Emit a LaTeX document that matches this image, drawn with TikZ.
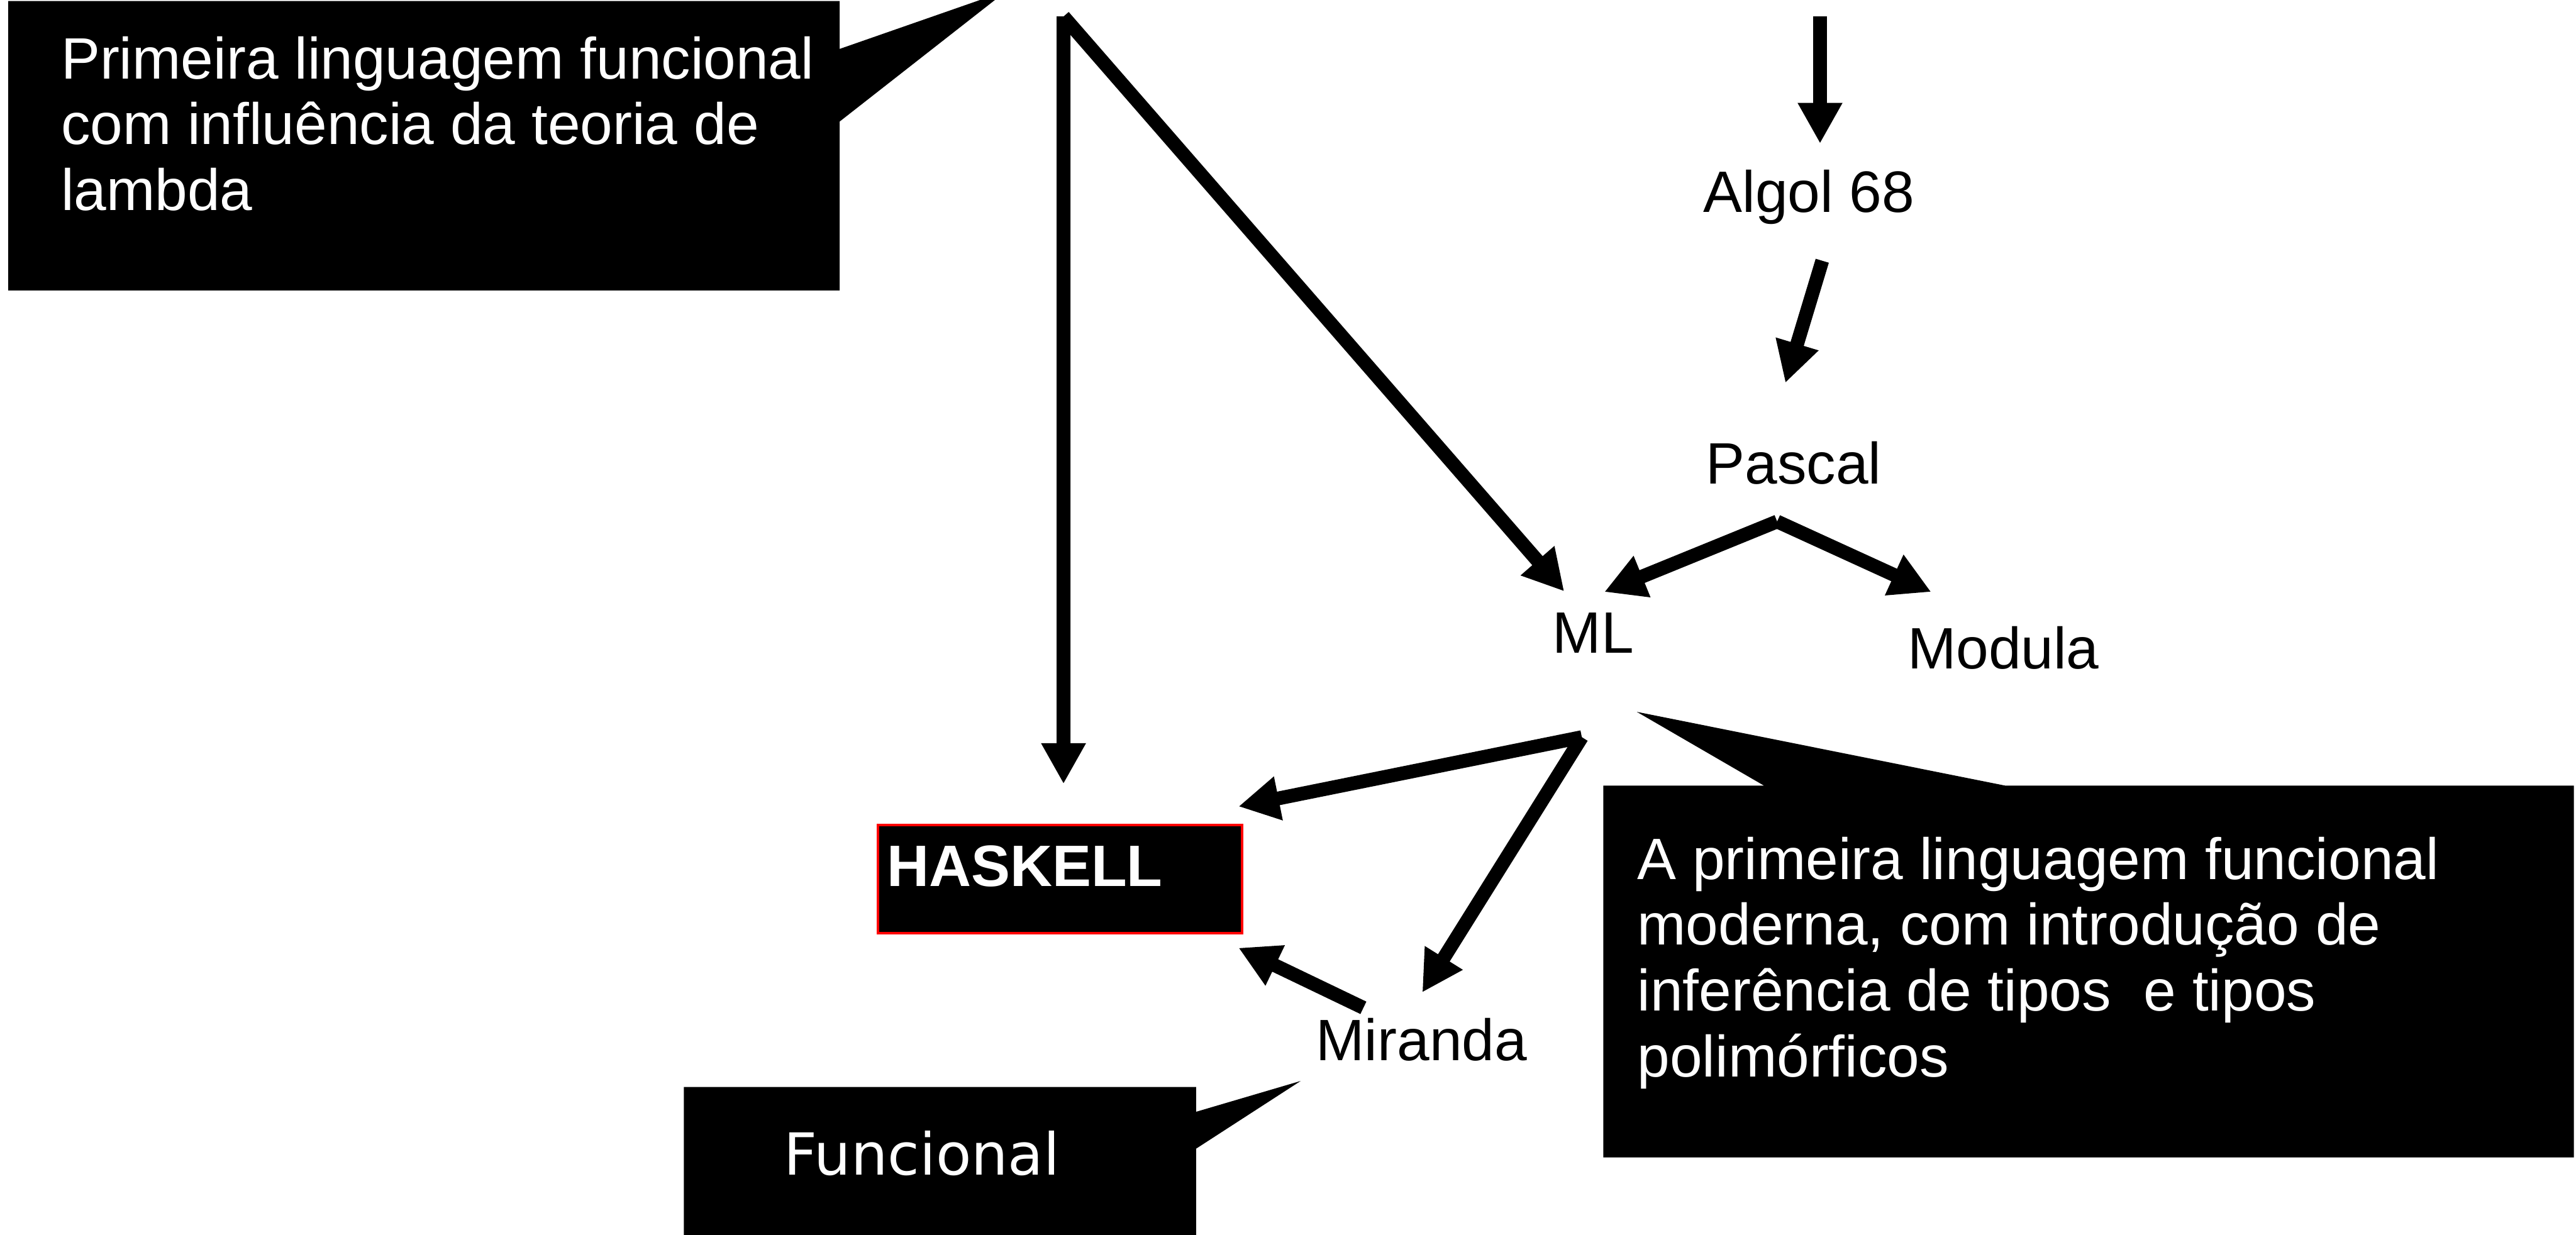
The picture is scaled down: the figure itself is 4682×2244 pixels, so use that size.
\documentclass[tikz,border=0pt]{standalone}
\usepackage{fontspec}
\setmainfont{Liberation Sans}
\newfontfamily\dejavu{DejaVu Sans}
\usetikzlibrary{arrows.meta,calc}

\begin{document}
\begin{tikzpicture}[x=0.1mm,y=-0.1mm,
  lbl/.style={font=\fontsize{30.2}{34}\selectfont, inner sep=0pt, outer sep=0pt, anchor=base west},
  note/.style={lbl, text=white, align=left},
  link/.style={line width=2.5mm, -{Triangle[length=7.4mm,width=7.6mm]}},
  callout/.style={fill=black}]

  % canvas
  \useasboundingbox (0,0) rectangle (4682,2244);
  \clip (0,0) rectangle (4682,2244);
  \fill[white] (0,0) rectangle (4682,2244);

  % callout boxes
  \fill[callout] (15,2) -- (1526,2) -- (1526,89) -- (1830,-17) -- (1526,221)
                 -- (1526,528) -- (15,528) -- cycle;
  \fill[callout] (2914,1428) -- (3206,1428) -- (2975,1294) -- (3644,1428)
                 -- (4678,1428) -- (4678,2104) -- (2914,2104) -- cycle;
  \fill[callout] (1243,1976) -- (2174,1976) -- (2174,2021) -- (2364,1965)
                 -- (2174,2088) -- (2174,2260) -- (1243,2260) -- cycle;

  % callout texts (base anchor = baseline of the last line)
  \node[note] (lispnote) at (111,382)
    {Primeira linguagem funcional\\com influência da teoria de\\lambda};
  \node[note] (mlnote) at (2976,1957)
    {A primeira linguagem funcional\\moderna, com introdução de\\inferência de tipos\ \ e tipos\\polimórficos};
  \node[note, font=\dejavu\fontsize{30}{34}\selectfont] (mirnote) at (1425,2136) {Funcional};

  % language nodes
  \node[lbl] (algol)   at (3096,386)  {Algol 68};
  \node[lbl] (pascal)  at (3101,880)  {Pascal};
  \node[lbl] (ml)      at (2822,1187) {ML};
  \node[lbl] (modula)  at (3467,1216) {Modula};
  \node[lbl] (miranda) at (2392,1928) {Miranda};
  \node[fill=black, draw=red, line width=0.5mm, outer sep=0pt, anchor=north west,
        text=white, font=\bfseries\fontsize{30.2}{34}\selectfont,
        text width=62.9mm, align=left, inner xsep=1.65mm, inner ysep=0pt,
        text height=11.15mm, text depth=8.55mm] (haskell) at (1595.5,1499.5) {HASKELL};

  % arrow ends, placed relative to the nodes they touch
  \coordinate (srcL) at (1933,30);
  \coordinate (srcR) at (3308,30);
  \coordinate (algolIn)   at ($(algol.base west)+(212,-125)$);
  \coordinate (algolOut)  at ($(algol.base west)+(216,88)$);
  \coordinate (pascalIn)  at ($(pascal.base west)+(144,-184)$);
  \coordinate (pascalOut) at ($(pascal.base west)+(129,68)$);
  \coordinate (mlInTop)   at ($(ml.base west)+(21,-112)$);
  \coordinate (mlInPas)   at ($(ml.base west)+(94,-111)$);
  \coordinate (mlOut)     at ($(ml.base west)+(53,153)$);
  \coordinate (modulaIn)  at ($(modula.base west)+(43,-140)$);
  \coordinate (mirIn)     at ($(miranda.base west)+(193,-124)$);
  \coordinate (mirOut)    at ($(miranda.base west)+(86,-96)$);
  \coordinate (hasInTop)  at ($(haskell.north west)+(337.5,-74.5)$);
  \coordinate (hasInML)   at ($(haskell.north east)+(-6.5,-33.5)$);
  \coordinate (hasInMir)  at ($(haskell.south east)+(-6.5,26.5)$);

  % connectors
  \draw[link] (srcL) -- (hasInTop);
  \draw[link] (srcL) -- (mlInTop);
  \draw[link] (srcR) -- (algolIn);
  \draw[link] (algolOut) -- (pascalIn);
  \draw[link] (pascalOut) -- (mlInPas);
  \draw[link] (pascalOut) -- (modulaIn);
  \draw[link] (mlOut) -- (hasInML);
  \draw[link] (mlOut) -- (mirIn);
  \draw[link] (mirOut) -- (hasInMir);
\end{tikzpicture}
\end{document}
